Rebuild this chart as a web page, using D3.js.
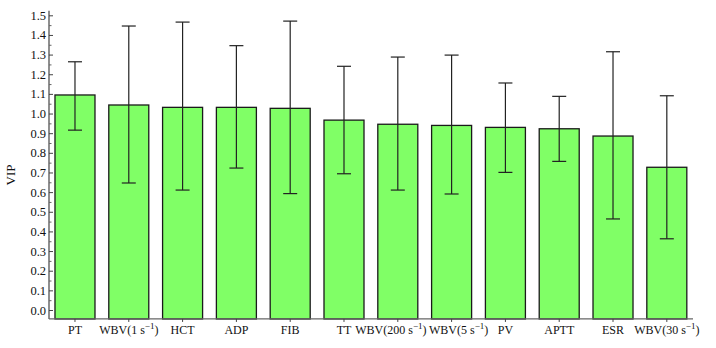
<!DOCTYPE html>
<html><head><meta charset="utf-8">
<script src="https://cdn.jsdelivr.net/npm/d3@7"></script>
<style>body{margin:0;background:#fff}svg{display:block}text{fill:#111}</style>
</head><body><svg id="c" width="716" height="348"></svg>
<script>
const FONT = "'Liberation Serif', 'Times New Roman', Times, serif";
const categories = ["PT","WBV(1 s\u207B\u00B9)","HCT","ADP","FIB","TT","WBV(200 s\u207B\u00B9)","WBV(5 s\u207B\u00B9)","PV","APTT","ESR","WBV(30 s\u207B\u00B9)"];
const labelBase = ["PT","WBV(1 s","HCT","ADP","FIB","TT","WBV(200 s","WBV(5 s","PV","APTT","ESR","WBV(30 s"];
const labelSup = [false,true,false,false,false,false,true,true,false,false,false,true];
const vip = [1.097,1.046,1.034,1.034,1.029,0.969,0.948,0.942,0.932,0.925,0.888,0.729];
const errHigh = [1.266,1.448,1.468,1.348,1.473,1.243,1.290,1.300,1.158,1.090,1.317,1.093];
const errLow = [0.918,0.649,0.613,0.725,0.595,0.696,0.613,0.593,0.703,0.759,0.466,0.365];
const yTicks = d3.range(0,1.5001,0.1);

const svg = d3.select("#c").attr("font-family", FONT);
const y = d3.scaleLinear().domain([0,1.5]).range([310.5,15.8]);
const yBottom = y(-0.043), yTop = y(1.526);
const x = d3.scaleBand().domain(categories).range([49.6,692.2]).paddingInner(0.2565).paddingOuter(0.1);

// bars
svg.append("g").selectAll("rect").data(categories).join("rect")
  .attr("x", d=>x(d)).attr("width", x.bandwidth())
  .attr("y", (d,i)=>y(vip[i])).attr("height",(d,i)=>yBottom - y(vip[i]))
  .attr("fill","#80ff66").attr("stroke","#1a1a1a").attr("stroke-width",1.3);

// error bars
const eg = svg.append("g").attr("stroke","#222").attr("stroke-width",1.2);
categories.forEach((d,i)=>{
  const cx = x(d)+x.bandwidth()/2;
  eg.append("line").attr("x1",cx).attr("x2",cx).attr("y1",y(errLow[i])).attr("y2",y(errHigh[i]));
  eg.append("line").attr("x1",cx-7).attr("x2",cx+7).attr("y1",y(errLow[i])).attr("y2",y(errLow[i]));
  eg.append("line").attr("x1",cx-7).attr("x2",cx+7).attr("y1",y(errHigh[i])).attr("y2",y(errHigh[i]));
});

// y axis
const ax = svg.append("g");
ax.append("line").attr("x1",49).attr("x2",49).attr("y1",yTop).attr("y2",yBottom).attr("stroke","#444").attr("stroke-width",1.2);
yTicks.forEach(t=>{
  ax.append("line").attr("x1",49).attr("x2",53).attr("y1",y(t)).attr("y2",y(t)).attr("stroke","#444");
  ax.append("text").attr("x",46).attr("y",y(t)+4).attr("text-anchor","end").attr("font-size",12.5).text(d3.format(".1f")(t));
});
d3.range(0.05,1.5,0.1).forEach(t=>{
  ax.append("line").attr("x1",49).attr("x2",51.5).attr("y1",y(t)).attr("y2",y(t)).attr("stroke","#666");
});
// x axis
ax.append("line").attr("x1",49).attr("x2",693).attr("y1",yBottom).attr("y2",yBottom).attr("stroke","#666").attr("stroke-width",1.2);
const labels = [];
categories.forEach((d,i)=>{
  const cx = x(d)+x.bandwidth()/2;
  ax.append("line").attr("x1",cx).attr("x2",cx).attr("y1",yBottom).attr("y2",yBottom+3).attr("stroke","#444");
  const t = ax.append("text").attr("text-anchor","middle").attr("font-size",12);
  t.append("tspan").text(labelBase[i]);
  if(labelSup[i]){
    t.append("tspan").attr("dy",-5).attr("font-size",9).text("\u22121");
    t.append("tspan").attr("dy",5).text(")");
  }
  labels.push({t, cx, w: t.node().getBBox().width, s: 1});
});
// resolve label collisions: shift into free room, then compress if needed
const GAP = 2.5;
for(let iter=0; iter<20; iter++){
  for(let i=0;i<labels.length-1;i++){
    const L = labels[i], R = labels[i+1];
    const over = (L.cx + L.w*L.s/2 + GAP) - (R.cx - R.w*R.s/2);
    if(over <= 0) continue;
    const roomL = i>0 ? (L.cx - L.w*L.s/2) - (labels[i-1].cx + labels[i-1].w*labels[i-1].s/2 + GAP) : 5;
    const roomR = i+1<labels.length-1 ? (labels[i+2].cx - labels[i+2].w*labels[i+2].s/2 - GAP) - (R.cx + R.w*R.s/2) : 5;
    let need = over;
    const mL = Math.max(0, Math.min(need/2, roomL)); L.cx -= mL; need -= mL;
    const mR = Math.max(0, Math.min(need, roomR)); R.cx += mR; need -= mR;
    if(need > 0){
      const tot = L.w*L.s + R.w*R.s;
      const f = (tot - 2*need) / tot;
      L.s *= f; R.s *= f;
    }
  }
}
labels.forEach(l=>l.t.attr("transform",`translate(${l.cx},334) scale(${l.s},1)`));
svg.append("text").attr("transform","translate(15,175) rotate(-90)").attr("text-anchor","middle").attr("font-size",13).text("VIP");
</script></body></html>
